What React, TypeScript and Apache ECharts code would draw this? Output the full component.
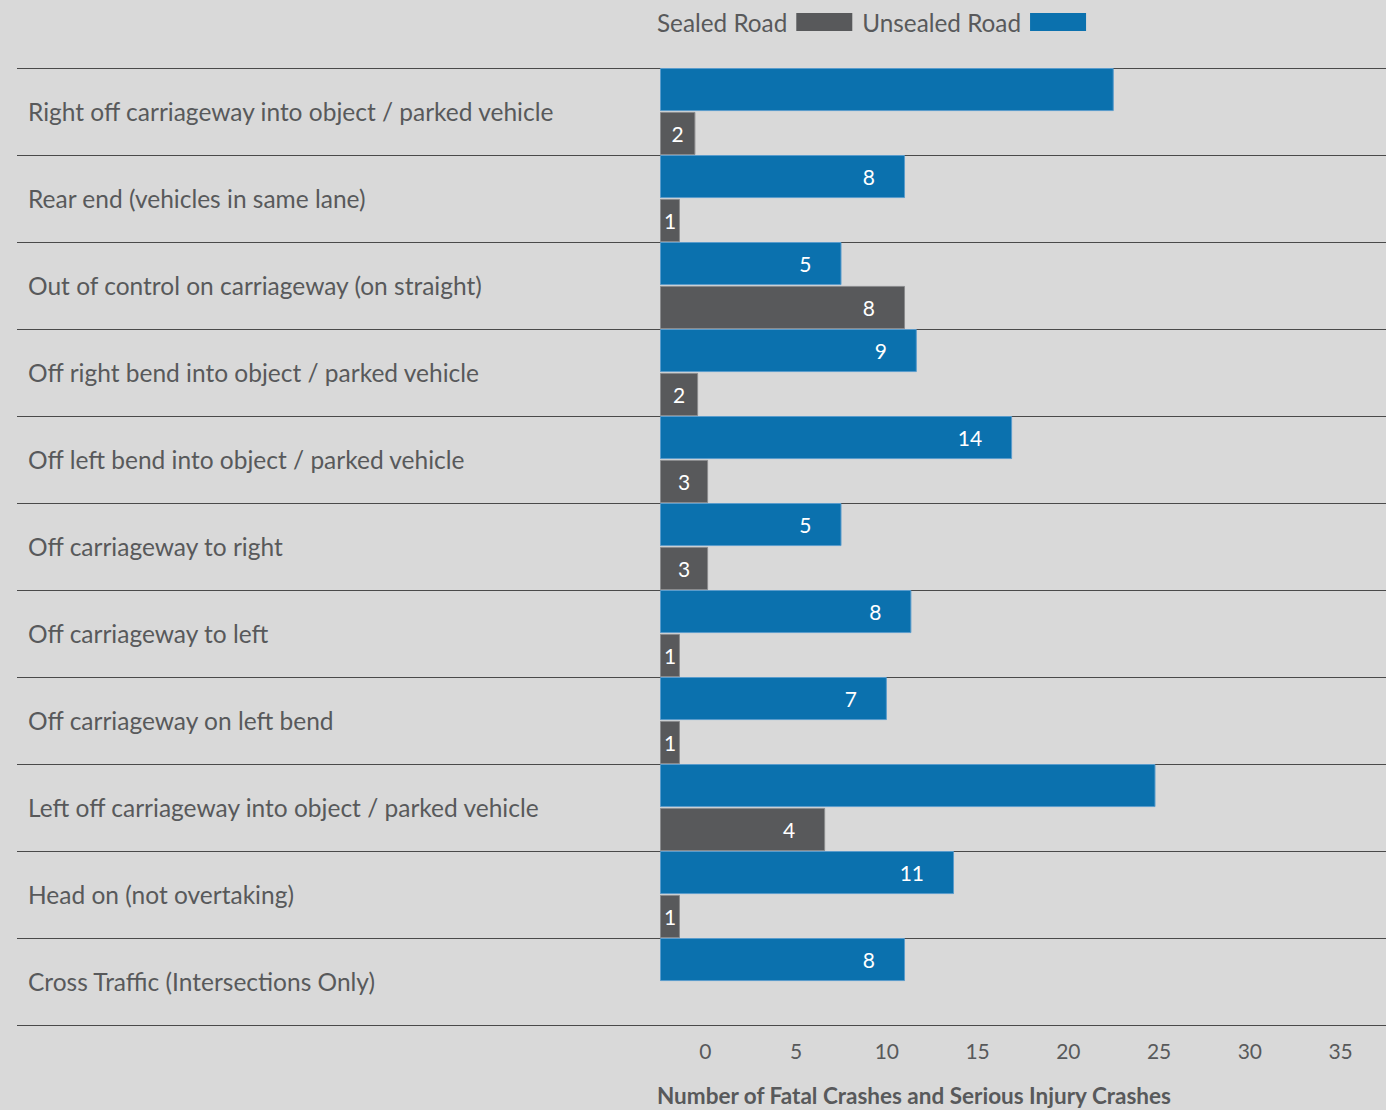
import React, { useEffect, useRef } from "react";
import * as echarts from "echarts";

const categories = [
  "Right off carriageway into object / parked vehicle",
  "Rear end (vehicles in same lane)",
  "Out of control on carriageway (on straight)",
  "Off right bend into object / parked vehicle",
  "Off left bend into object / parked vehicle",
  "Off carriageway to right",
  "Off carriageway to left",
  "Off carriageway on left bend",
  "Left off carriageway into object / parked vehicle",
  "Head on (not overtaking)",
  "Cross Traffic (Intersections Only)",
];

// Bar lengths as drawn (axis units)
const unsealedValues = [25.0, 13.5, 10.0, 14.15, 19.4, 10.0, 13.85, 12.5, 27.3, 16.2, 13.5];
const sealedValues = [1.95, 1.1, 13.5, 2.1, 2.65, 2.65, 1.1, 1.1, 9.1, 1.1, 0];

// Printed data labels
const unsealedLabels = ["", "8", "5", "9", "14", "5", "8", "7", "", "11", "8"];
const sealedLabels = ["2", "1", "8", "2", "3", "3", "1", "1", "4", "1", ""];

const xTickLabels = ["0", "5", "10", "15", "20", "25", "30", "35"];

const BLUE = "#0b71ae";
const GRAY = "#58595b";
const TEXT = "#58595b";
const FONT = "Lato";

function buildData(values: number[], labels: string[], border: string) {
  return values.map((v, i) => ({
    value: v,
    itemStyle: { borderWidth: v > 0 ? 1 : 0, borderColor: border },
    label: {
      show: labels[i] !== "",
      formatter: labels[i],
      position: v < 4 ? "inside" : "insideRight",
      distance: 30,
    },
  }));
}

export default function App() {
  const ref = useRef<HTMLDivElement>(null);

  useEffect(() => {
    document.body.style.margin = "0";
    document.body.style.background = "#d9d9d9";
    const chart = echarts.init(ref.current!, undefined, { renderer: "svg" });
    chart.setOption({
      animation: false,
      backgroundColor: "#d9d9d9",
      textStyle: { fontFamily: FONT },
      title: {
        text: "Number of Fatal Crashes and Serious Injury Crashes",
        left: 657,
        top: 1084,
        padding: 0,
        textStyle: { fontFamily: FONT, fontWeight: "bold", fontSize: 22.5, color: TEXT },
      },
      legend: {
        data: ["Sealed Road", "Unsealed Road"],
        left: 657,
        top: 10,
        padding: 0,
        align: "right",
        icon: "rect",
        itemWidth: 56,
        itemHeight: 18,
        itemGap: 10,
        itemStyle: { borderWidth: 0 },
        textStyle: { fontFamily: FONT, fontSize: 24.3, color: TEXT, padding: [0, 4, 0, 0] },
      },
      grid: [
        { left: 17, right: 0, top: 68, height: 957 },
        { left: 660, right: 0, top: 68, height: 957 },
      ],
      yAxis: [
        {
          type: "category",
          gridIndex: 0,
          data: categories,
          inverse: true,
          axisLine: { show: false },
          axisTick: { show: false },
          axisLabel: {
            inside: true,
            margin: 11,
            fontFamily: FONT,
            fontSize: 24.5,
            color: TEXT,
          },
          splitLine: { show: true, lineStyle: { color: "#4a4a4a", width: 1 } },
        },
        {
          type: "category",
          gridIndex: 1,
          data: categories,
          inverse: true,
          show: false,
        },
      ],
      xAxis: [
        { type: "value", gridIndex: 0, show: false, min: 0, max: 1 },
        { type: "value", gridIndex: 1, show: false, min: 0, max: 40 },
        {
          type: "category",
          gridIndex: 1,
          position: "bottom",
          data: xTickLabels,
          axisLine: { show: false },
          axisTick: { show: false },
          splitLine: { show: false },
          axisLabel: { margin: 15, fontFamily: FONT, fontSize: 21, color: TEXT },
        },
      ],
      series: [
        {
          name: "Unsealed Road",
          type: "bar",
          xAxisIndex: 1,
          yAxisIndex: 1,
          barGap: "2%",
          barCategoryGap: "0%",
          itemStyle: { color: BLUE },
          label: { color: "#ffffff", fontFamily: FONT, fontSize: 21 },
          data: buildData(unsealedValues, unsealedLabels, "#5a9ccc"),
        },
        {
          name: "Sealed Road",
          type: "bar",
          xAxisIndex: 1,
          yAxisIndex: 1,
          barGap: "2%",
          barCategoryGap: "0%",
          itemStyle: { color: GRAY },
          label: { color: "#ffffff", fontFamily: FONT, fontSize: 21 },
          data: buildData(sealedValues, sealedLabels, "#8a8b8d"),
        },
      ],
    });
    return () => chart.dispose();
  }, []);

  return (
    <div
      ref={ref}
      style={{ position: "fixed", left: 0, top: 0, width: 1386, height: 1110 }}
    />
  );
}
